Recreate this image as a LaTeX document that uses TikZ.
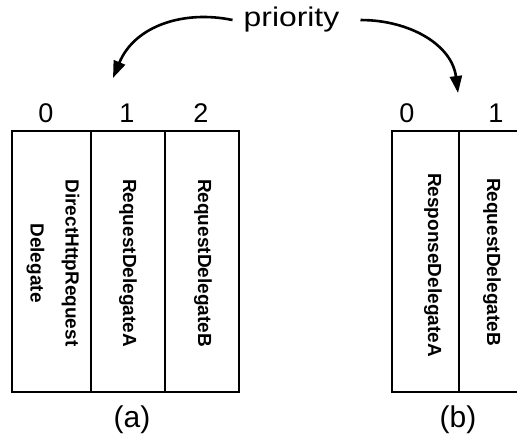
\documentclass[tikz,border=0pt]{standalone}
\usepackage{fontspec}
\setmainfont{Liberation Sans}
\usetikzlibrary{arrows.meta}
\begin{document}
\begin{tikzpicture}[x=1pt,y=1pt,
  frame/.style={line width=1.8pt},
  celltext/.style={rotate=-90, font=\fontsize{19}{35}\selectfont\bfseries, inner sep=0pt, align=center},
  index/.style={font=\fontsize{27}{30}\selectfont, anchor=base, inner sep=0pt},
  caption/.style={font=\fontsize{30}{34}\selectfont, anchor=base, inner sep=0pt},
  prioarrow/.style={line width=2.6pt, -{Triangle[length=17pt,width=12pt]}}]
\useasboundingbox (0,0) rectangle (517,-436);

% delegate table (a): three slots
\draw[frame] (12,-131) rectangle (239,-392);
\draw[frame] (91,-131) -- (91,-392);
\draw[frame] (165,-131) -- (165,-392);

% delegate table (b): two slots, the last one running past the edge
\draw[frame] (517,-131) -- (392,-131) -- (392,-392) -- (517,-392);
\draw[frame] (459,-131) -- (459,-392);

% slot indices
\node[index] (a0) at (46,-122) {0};
\node[index] (a1) at (127,-122) {1};
\node[index] (a2) at (201,-122) {2};
\node[index] (b0) at (407,-122) {0};
\node[index] (b1) at (496,-122) {1};

% slot contents
\node[celltext] (ca0) at (53,-263) {DirectHttpRequest\\Delegate};
\node[celltext] (ca1) at (128,-263) {RequestDelegateA};
\node[celltext] (ca2) at (203,-263) {RequestDelegateB};
\node[celltext] (cb0) at (433,-265) {ResponseDelegateA};
\node[celltext] (cb1) at (492,-262) {RequestDelegateB};

% captions
\node[caption] (capa) at (132,-427) {(a)};
\node[caption] (capb) at (458,-427) {(b)};

% priority label and its two arrows
\node[font=\fontsize{27}{30}\selectfont, anchor=base, inner sep=0pt] (prio) at (291.5,-27) {\scalebox{1.18}[1]{priority}};
\coordinate (tipa) at (113,-78);
\coordinate (tipb) at (458,-93);
\draw[prioarrow] ([xshift=-11pt]prio.west) .. controls (185,-10) and (135,-25) .. (tipa);
\draw[prioarrow] ([xshift=21pt]prio.east) .. controls (410,-20) and (452,-45) .. (tipb);
\end{tikzpicture}
\end{document}
